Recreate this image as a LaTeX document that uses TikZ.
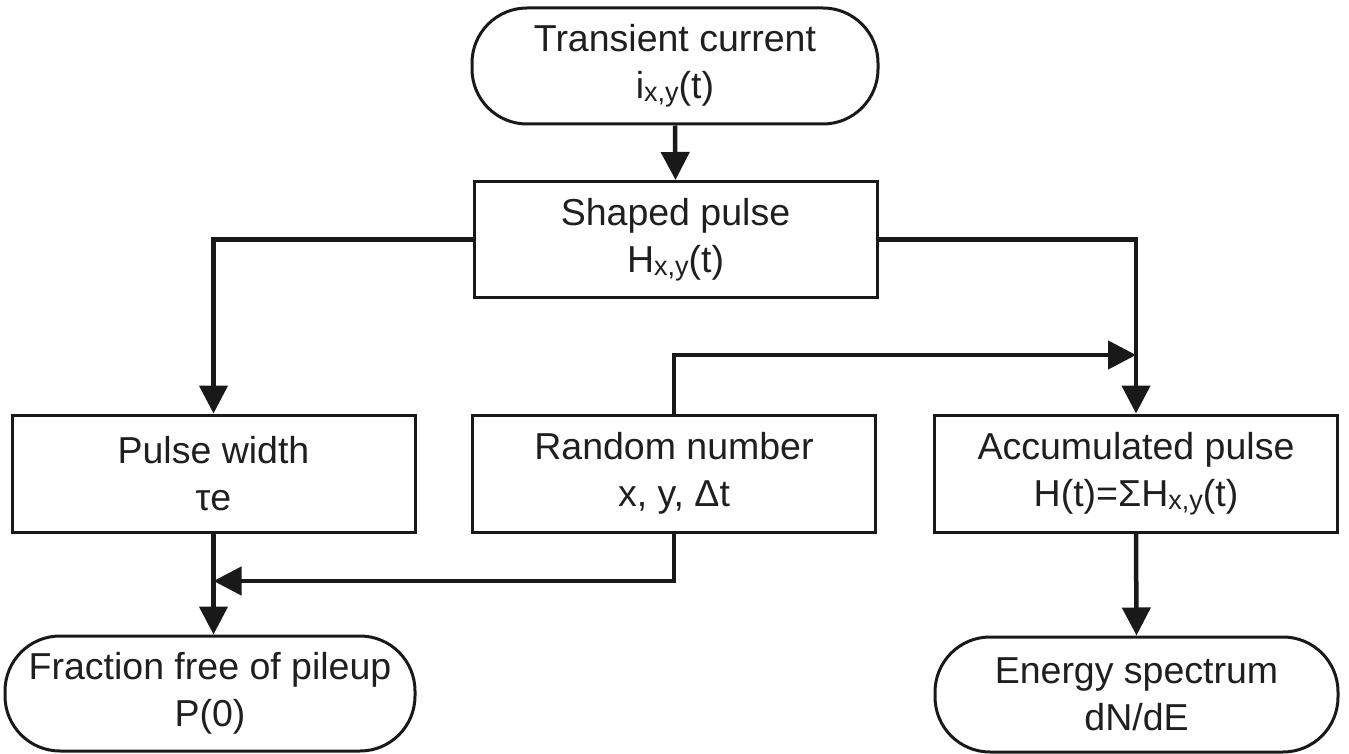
\documentclass[tikz,border=0pt]{standalone}
\usepackage{fontspec}
\setmainfont{Liberation Sans}
\usetikzlibrary{arrows.meta}
\newcommand{\sbx}[1]{{\fontsize{27}{27}\selectfont\raisebox{-3pt}{#1}}}
\begin{document}
\begin{tikzpicture}[x=1pt,y=1pt,
  box/.style={draw=black!90, line width=3pt, minimum width=403pt, minimum height=116pt,
    inner sep=0pt, align=center, text=black!88, font=\fontsize{37.5}{47}\selectfont},
  term/.style={box, rounded corners=55pt},
  conn/.style={draw=black!90, line width=4.5pt, -{Triangle[length=28pt,width=28pt]}}]
\useasboundingbox (0,0) rectangle (1349,-754);
\node[term, minimum width=406pt] (top) at (675,-66) {Transient current\\i\sbx{x,y}(t)};
\node[box] (shp) at (675.5,-239.5) {Shaped pulse\\H\sbx{x,y}(t)};
\node[box, minimum height=117pt] (pw) at (213.5,-473.5) {Pulse width\\τe};
\node[box, minimum height=117pt] (rnd) at (674,-473.5) {Random number\\x, y, Δt};
\node[box, minimum height=117pt] (acc) at (1136,-473.5) {Accumulated pulse\\H(t)=ΣH\sbx{x,y}(t)};
\node[term, minimum width=410pt, minimum height=115pt] (frac) at (210,-693.5) {Fraction free of pileup\\P(0)};
\node[term, minimum width=403pt, minimum height=115pt] (en) at (1136.5,-694.5) {Energy spectrum\\dN/dE};
\coordinate (j1) at (acc.north |- 0,-355);
\coordinate (j2) at (pw.south |- 0,-581);
\coordinate (j3) at (pw.south |- frac.north);
\draw[conn] (top.south) -- (shp.north);
\draw[conn] (shp.west) -| (pw.north);
\draw[conn] (shp.east) -| (acc.north);
\draw[conn] (rnd.north) |- (j1);
\draw[conn] (pw.south) -- (j3);
\draw[conn] (rnd.south) |- (j2);
\draw[conn] (acc.south) -- (en.north);
\end{tikzpicture}
\end{document}
